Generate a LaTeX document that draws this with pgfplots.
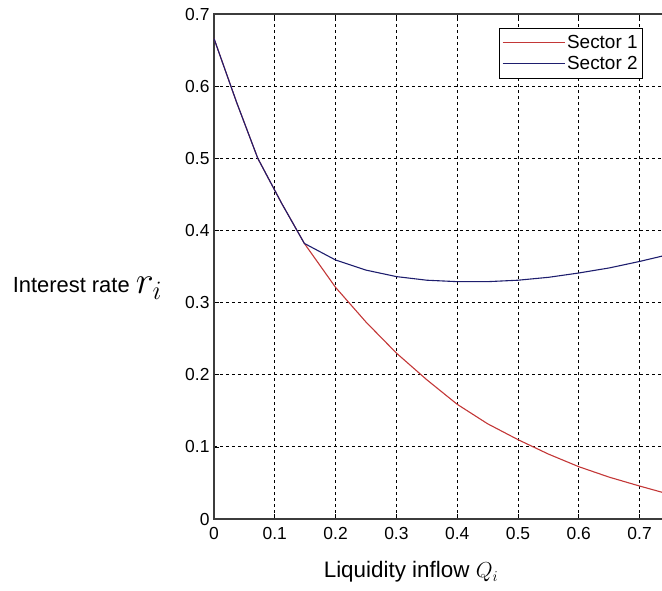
\documentclass[border=0pt]{standalone}
\usepackage{fontspec}
\setmainfont{Liberation Sans}
\usepackage{graphicx}
\usepackage{pgfplots}
\pgfplotsset{compat=1.18}

\definecolor{sredone}{RGB}{195,55,55}
\definecolor{sbluetwo}{RGB}{30,30,110}

\begin{document}
\begin{tikzpicture}
\begin{axis}[
    scale only axis,
    width=486.4bp, height=505bp,
    xmin=0, xmax=0.8, ymin=0, ymax=0.7,
    xtick={0,0.1,...,0.7}, ytick={0,0.1,...,0.7},
    /pgf/number format/assume math mode=true,
    tick label style={font=\fontsize{17.5}{20}\selectfont},
    yticklabel style={xshift=-1bp},
    xticklabel style={yshift=-5bp},
    tick align=inside, major tick length=5bp,
    tick style={black, line width=0.6bp},
    axis line style={draw={rgb,255:red,60;green,60;blue,60}, line width=1.3bp},
    grid=major,
    major grid style={black, line width=0.8bp, dash pattern=on 3bp off 3bp},
    every axis y label/.style={at={(axis description cs:0,0.457)}, anchor=east, xshift=-48bp},
    every axis x label/.style={at={(axis description cs:0.405,0)}, anchor=north, yshift=-39bp},
    ylabel={\fontsize{22}{24}\selectfont Interest rate \raisebox{-1bp}{\scalebox{1.85}{$r_i$}}},
    xlabel={\fontsize{22.5}{24}\selectfont Liquidity inflow \scalebox{1.05}{$Q_i$}},
    legend style={at={(axis cs:0.7056,0.681)}, anchor=north east,
        font=\fontsize{19}{21}\selectfont, draw=black, line width=0.8bp,
        fill=white, inner xsep=3bp, inner ysep=5.5bp, row sep=1.5bp},
    legend cell align=left,
    legend image code/.code={\draw[#1, line width=1bp] (-4bp,0bp) -- (58bp,0bp);},
]
\coordinate (ll) at (axis cs:0,0);
\addplot[sredone, line width=1.1bp] coordinates {
    (0,0.666) (0.037,0.578) (0.072,0.500) (0.111,0.438) (0.1486,0.382)
    (0.2,0.321) (0.25,0.273) (0.3,0.230) (0.35,0.193) (0.4,0.159)
    (0.45,0.132) (0.5,0.110) (0.55,0.090) (0.6,0.0725) (0.65,0.058)
    (0.7,0.0457) (0.75,0.034)};
\addplot[sbluetwo, line width=1.1bp] coordinates {
    (0,0.666) (0.037,0.578) (0.072,0.500) (0.111,0.438) (0.1486,0.382)
    (0.2,0.359) (0.25,0.345) (0.3,0.336) (0.35,0.331) (0.4,0.329)
    (0.45,0.329) (0.5,0.331) (0.55,0.335) (0.6,0.341) (0.65,0.348)
    (0.7,0.357) (0.75,0.367)};
\legend{Sector 1, Sector 2}
\end{axis}
\pgfresetboundingbox
\useasboundingbox ([shift={(-214bp,-72bp)}]ll) rectangle ([shift={(448bp,519bp)}]ll);
\end{tikzpicture}
\end{document}
